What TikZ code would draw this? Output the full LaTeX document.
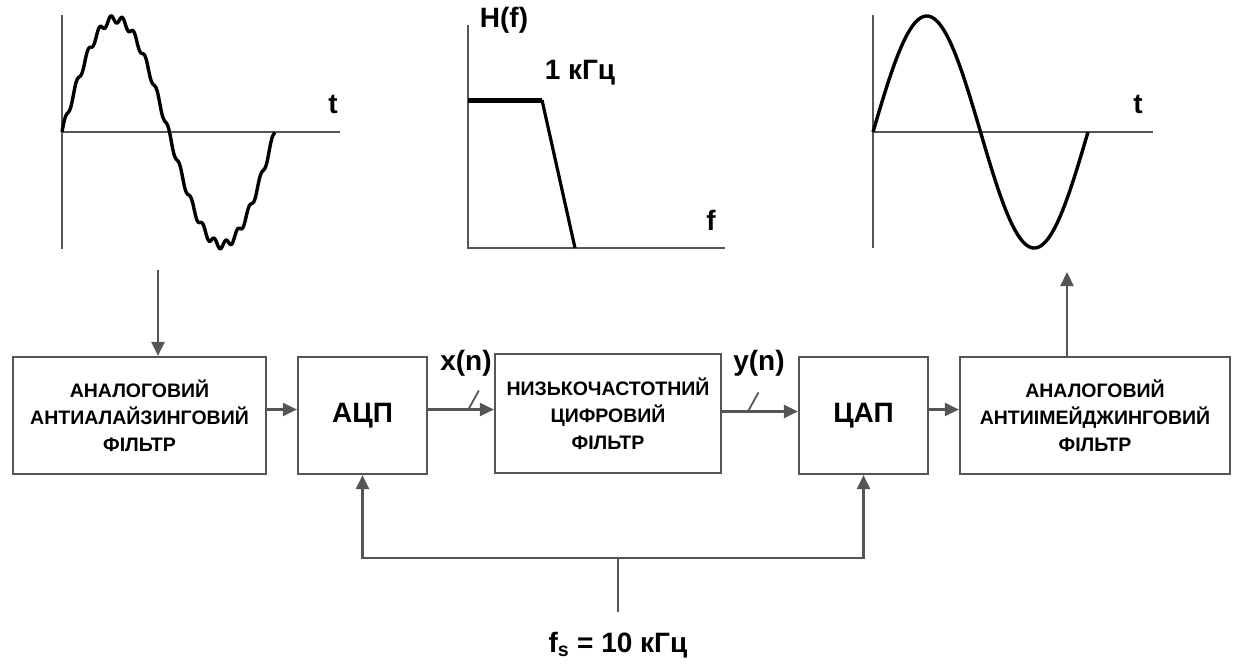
\documentclass[tikz,border=0pt]{standalone}
\usepackage{fontspec}
\setmainfont{Liberation Sans}
\usepackage{tikz}
\usetikzlibrary{arrows.meta,positioning,calc}
\definecolor{linegray}{HTML}{555555}

\begin{document}
\begin{tikzpicture}[
        x=1pt, y=-1pt,
        block/.style={draw=linegray, line width=2.2pt, fill=white, align=center, inner sep=0pt,
            font=\fontsize{19.5}{27}\selectfont\bfseries},
        bigblock/.style={block, font=\fontsize{28}{32}\selectfont\bfseries},
        conn/.style={draw=linegray, line width=2.2pt, -{Triangle[length=14pt,width=13pt]}},
        axis/.style={draw=linegray, line width=2.6pt},
        wave/.style={draw=black, line width=3.4pt, line join=round},
        lbl/.style={font=\fontsize{28}{30}\selectfont\bfseries, inner sep=0pt},
    ]
    \useasboundingbox (0,0) rectangle (1235,665);

    % === Input signal (noisy) ===
    \draw[axis] (62,15) -- (62,249);
    \draw[axis] (62,132) -- (340,132);
    \node[lbl] (tin) at (333,104) {t};
    \draw[wave] plot[domain=0:213, samples=320]
        ({62+\x}, {132-113*sin(\x/213*360)-4*sin(\x/11.5*360)});

    % === Filter response ===
    \draw[axis] (468,25) -- (468,248) -- (725,248);
    \node[lbl] (hf) at (504,20) {H(f)};
    \node[lbl] (fc) at (580,73) {1 кГц};
    \node[lbl] (faxis) at (711,220) {f};
    \draw[black, line width=5pt] (468,100) -- (542,100);
    \draw[black, line width=3.2pt] (542,100) -- (575,248);

    % === Output signal ===
    \draw[axis] (873,15) -- (873,248);
    \draw[axis] (873,132) -- (1153,132);
    \node[lbl] (tout) at (1138,104) {t};
    \draw[wave] plot[domain=0:215, samples=160]
        ({873+\x}, {132-116*sin(\x/215*360)});

    % === Blocks ===
    \node[block, minimum width=253pt, minimum height=117pt] (aaf) at (139.5,415.5)
        {АНАЛОГОВИЙ\\АНТИАЛАЙЗИНГОВИЙ\\ФІЛЬТР};
    \node[bigblock, minimum width=129pt, minimum height=117pt] (adc) at (362.5,415.5) {АЦП};
    \node[block, minimum width=226pt, minimum height=119pt] (lpf) at (608,413.5)
        {НИЗЬКОЧАСТОТНИЙ\\ЦИФРОВИЙ\\ФІЛЬТР};
    \node[bigblock, minimum width=129pt, minimum height=117pt] (dac) at (863.5,415.5) {ЦАП};
    \node[block, minimum width=270pt, minimum height=117pt] (aif) at (1095,415.5)
        {АНАЛОГОВИЙ\\АНТИІМЕЙДЖИНГОВИЙ\\ФІЛЬТР};

    % === Signal path ===
    \coordinate (in) at (158,270);
    \coordinate (out) at (1067,272);
    \draw[conn] (in) -- (in |- aaf.north);
    \draw[conn] ([yshift=6pt]aaf.east) -- ([yshift=6pt]adc.west);
    \draw[conn] ([yshift=6pt]adc.east) -- ([yshift=4pt]lpf.west)
        coordinate[pos=0.68] (xs);
    \draw[conn] ([yshift=2pt]lpf.east) -- ([yshift=4pt]dac.west)
        coordinate[pos=0.4] (ys);
    \draw[conn] ([yshift=6pt]dac.east) -- ([yshift=6pt]aif.west);
    \draw[conn] (out |- aif.north) -- (out);

    % bus marks
    \draw[linegray, line width=1.8pt] (xs) +(-5,1) -- +(6,-19);
    \draw[linegray, line width=1.8pt] (ys) +(-5,1) -- +(6,-19);
    \node[lbl] (xn) at (466,363) {x(n)};
    \node[lbl] (yn) at (759,363) {y(n)};

    % === Clock ===
    \coordinate (clk) at (618,612);
    \coordinate (clkjoin) at (618,558);
    \draw[linegray, line width=2.2pt] (clk) -- (clkjoin);
    \draw[conn] (clkjoin) -| (adc.south);
    \draw[conn] (clkjoin) -| (dac.south);
    \node[lbl] (fs) at (618,645) {f\textsubscript{s} = 10 кГц};

\end{tikzpicture}
\end{document}
